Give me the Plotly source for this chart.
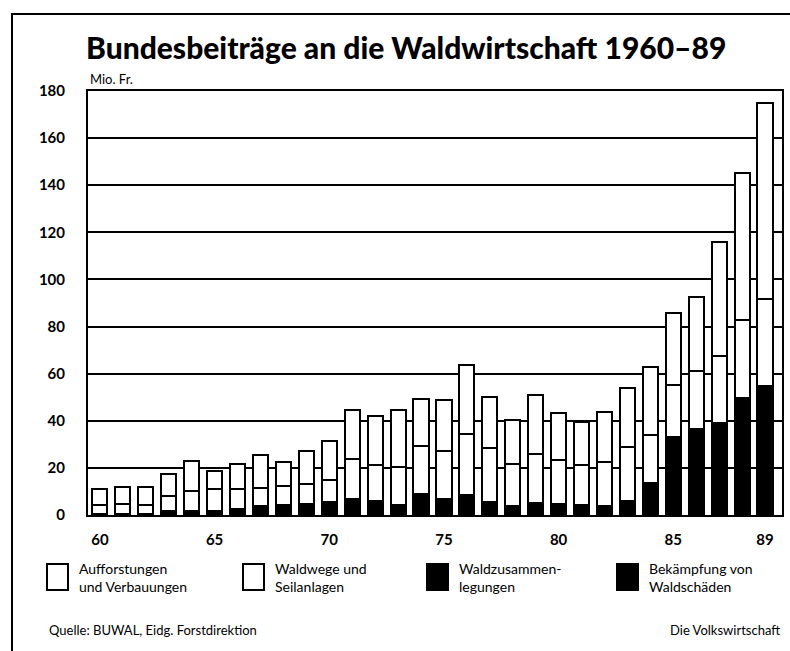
import plotly.graph_objects as go

# Bundesbeiträge an die Waldwirtschaft, Mio. Fr.
years = list(range(1960, 1990))

aufforstungen = [7.0, 7.0, 7.4, 9.2, 13.0, 7.6, 10.6, 14.0, 9.9, 14.2,
                 16.5, 20.7, 20.7, 23.9, 20.0, 21.8, 29.3, 21.7, 18.5, 25.1,
                 20.3, 18.3, 21.4, 25.0, 29.2, 30.4, 31.4, 48.3, 62.5, 83.2]
waldwege = [3.7, 4.2, 3.8, 6.5, 8.6, 9.4, 8.6, 7.5, 8.2, 8.4,
            9.5, 17.0, 15.3, 16.2, 20.4, 20.0, 25.7, 23.0, 17.9, 21.0,
            18.7, 17.2, 18.4, 23.0, 20.1, 22.1, 24.8, 28.5, 32.9, 37.3]
zusammenlegungen = [0.5, 0.5, 0.5, 1.5, 1.5, 1.5, 2.5, 4.0, 4.2, 4.6,
                    5.5, 6.8, 6.0, 4.3, 8.9, 7.0, 8.7, 5.4, 3.9, 5.0,
                    4.5, 4.1, 4.0, 6.0, 5.0, 5.0, 4.0, 4.0, 5.0, 4.0]
waldschaeden = [0] * 24 + [8.7, 28.1, 32.3, 35.0, 44.7, 50.6]

tick_years = [1960, 1965, 1970, 1975, 1980, 1985, 1989]
tick_text = ["60", "65", "70", "75", "80", "85", "89"]

FONT = "Lato"
W, H = 790, 651
L, R, T, B = 88, 8, 91, 136

fig = go.Figure()
# stacked bottom-up: Waldschäden, Zusammenlegungen (black), Waldwege, Aufforstungen (white)
for vals, fill, name in [
    (waldschaeden, "black", "Bekämpfung von Waldschäden"),
    (zusammenlegungen, "black", "Waldzusammenlegungen"),
    (waldwege, "white", "Waldwege und Seilanlagen"),
    (aufforstungen, "white", "Aufforstungen und Verbauungen"),
]:
    fig.add_trace(go.Bar(
        x=years, y=vals, name=name, width=0.66,
        marker=dict(color=fill, line=dict(color="black", width=2)),
        showlegend=False,
    ))

fig.update_layout(
    width=W, height=H,
    barmode="stack",
    paper_bgcolor="white", plot_bgcolor="white",
    margin=dict(l=L, r=R, t=T, b=B),
    font=dict(family=FONT, color="black"),
)
fig.update_xaxes(
    range=[1959.48, 1989.74], tickvals=tick_years, ticktext=tick_text,
    showgrid=False, showline=True, linecolor="black", linewidth=2, mirror=True,
    ticks="", ticklabelstandoff=10, automargin=False,
    tickfont=dict(size=15, family=FONT, weight="bold"),
)
fig.update_yaxes(
    range=[0, 180], dtick=20,
    showgrid=True, gridcolor="black", gridwidth=1.5,
    showline=True, linecolor="black", linewidth=2, mirror=True,
    zeroline=False, ticks="", ticklabelstandoff=18, automargin=False,
    tickfont=dict(size=15, family=FONT, weight="bold"),
)

pw = W - L - R
ph = H - T - B


def px(x):
    return (x - L) / pw


def py(y):
    return (H - B - y) / ph


# outer frame of the page
fig.add_shape(type="rect", xref="paper", yref="paper",
              x0=px(12), x1=px(800), y0=py(14), y1=py(660),
              line=dict(color="black", width=2), fillcolor="rgba(0,0,0,0)")

fig.add_annotation(x=px(84), y=py(47), xref="paper", yref="paper",
                   xanchor="left", yanchor="middle", showarrow=False,
                   text="Bundesbeiträge an die Waldwirtschaft 1960–89",
                   font=dict(size=30, family=FONT, weight=900))
fig.add_annotation(x=px(88), y=py(79), xref="paper", yref="paper",
                   xanchor="left", yanchor="middle", showarrow=False,
                   text="Mio. Fr.", font=dict(size=13, family=FONT))

# legend drawn by hand
legend = [
    (47, "white", "Aufforstungen<br>und Verbauungen"),
    (243, "white", "Waldwege und<br>Seilanlagen"),
    (427, "black", "Waldzusammen-<br>legungen"),
    (617, "black", "Bekämpfung von<br>Waldschäden"),
]
for x0, fill, label in legend:
    fig.add_shape(type="rect", xref="paper", yref="paper",
                  x0=px(x0), x1=px(x0 + 21), y0=py(590), y1=py(564),
                  line=dict(color="black", width=2), fillcolor=fill)
    fig.add_annotation(x=px(x0 + 30), y=py(577), xref="paper", yref="paper",
                       xanchor="left", yanchor="middle", showarrow=False,
                       align="left", text=label,
                       font=dict(size=14, family=FONT))

fig.add_annotation(x=px(47), y=py(630), xref="paper", yref="paper",
                   xanchor="left", yanchor="middle", showarrow=False,
                   text="Quelle: BUWAL, Eidg. Forstdirektion",
                   font=dict(size=13, family=FONT))
fig.add_annotation(x=px(782), y=py(630), xref="paper", yref="paper",
                   xanchor="right", yanchor="middle", showarrow=False,
                   text="Die Volkswirtschaft",
                   font=dict(size=13, family=FONT))

fig.write_html("out.html", config={"displayModeBar": False},
               post_script="document.body.style.margin='0';document.body.style.overflow='hidden';")
